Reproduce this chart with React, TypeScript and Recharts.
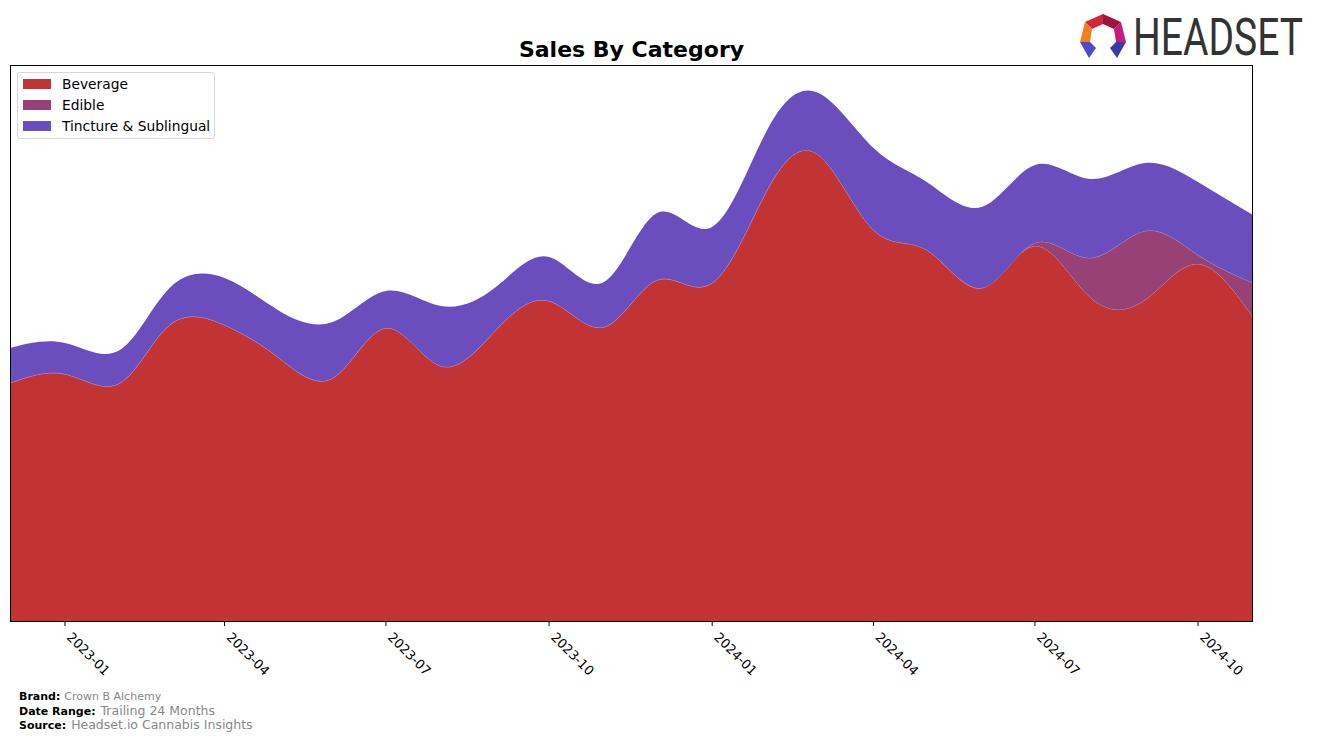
import { Area, AreaChart, XAxis, YAxis } from "recharts"

const months = [
  "2022-12", "2023-01", "2023-02", "2023-03", "2023-04", "2023-05",
  "2023-06", "2023-07", "2023-08", "2023-09", "2023-10", "2023-11",
  "2023-12", "2024-01", "2024-02", "2024-03", "2024-04", "2024-05",
  "2024-06", "2024-07", "2024-08", "2024-09", "2024-10", "2024-11",
]
const beverage = [239, 248, 239, 297, 297, 265, 244, 294, 256, 292, 321, 295, 342, 339, 432, 467, 392, 372, 334, 376, 325, 322, 358, 305]
const edible = [0, 0, 0, 0, 0, 0, 0, 0, 0, 0, 0, 0, 0, 0, 0, 0, 0, 0, 0, 3, 39, 69, 9, 34]
const tincture = [35, 31, 33, 37, 47, 47, 56, 37, 60, 43, 44, 45, 67, 56, 60, 62, 82, 68, 81, 78, 79, 68, 73, 68]
const tickLabels = ["2023-01", "2023-04", "2023-07", "2023-10", "2024-01", "2024-04", "2024-07", "2024-10"]

const toTime = (m: string) => {
  const [y, mo] = m.split("-").map(Number)
  return Date.UTC(y, mo - 1, 1)
}

const data = months.map((m, i) => ({
  t: toTime(m),
  beverage: beverage[i],
  edible: edible[i],
  tincture: tincture[i],
}))

const colors = {
  beverage: "#c13433",
  edible: "#974177",
  tincture: "#6a4ebd",
}

const font = "'DejaVu Sans', sans-serif"

function DateTick({ x, y, payload }: any) {
  const label = new Date(payload.value).toISOString().slice(0, 7)
  const ox = x + 8
  const oy = y + 3
  return (
    <text
      x={ox}
      y={oy}
      dy="0.75em"
      transform={`rotate(45 ${ox} ${oy})`}
      textAnchor="start"
      fontSize={13}
      fontFamily={font}
      fill="#000"
    >
      {label}
    </text>
  )
}

export default function App() {
  const legendItems = [
    { name: "Beverage", color: colors.beverage },
    { name: "Edible", color: colors.edible },
    { name: "Tincture & Sublingual", color: colors.tincture },
  ]

  return (
    <div style={{ position: "relative", width: 1317, height: 741, margin: -8, background: "#fff" }}>
      <AreaChart
        width={1317}
        height={741}
        data={data}
        margin={{ top: 65, right: 64, bottom: 59, left: 10 }}
      >
        <XAxis
          dataKey="t"
          type="number"
          domain={[data[0].t, data[data.length - 1].t]}
          ticks={tickLabels.map(toTime)}
          tick={<DateTick />}
          tickLine={{ stroke: "#000" }}
          tickSize={4}
          axisLine={false}
          height={60}
          interval={0}
        />
        <YAxis hide domain={[0, 557]} allowDataOverflow />
        <Area
          type="natural"
          dataKey="beverage"
          stackId="1"
          fill={colors.beverage}
          fillOpacity={1}
          stroke="#b89ac4"
          strokeWidth={0.7}
          isAnimationActive={false}
        />
        <Area
          type="natural"
          dataKey="edible"
          stackId="1"
          fill={colors.edible}
          fillOpacity={1}
          stroke="#b89ac4"
          strokeWidth={0.7}
          isAnimationActive={false}
        />
        <Area
          type="natural"
          dataKey="tincture"
          stackId="1"
          fill={colors.tincture}
          fillOpacity={1}
          stroke="none"
          isAnimationActive={false}
        />
      </AreaChart>

      {/* plot frame */}
      <div
        style={{
          position: "absolute",
          left: 10,
          top: 65,
          width: 1243,
          height: 557,
          border: "1px solid #000",
          boxSizing: "border-box",
          pointerEvents: "none",
        }}
      />

      {/* legend */}
      <div
        style={{
          position: "absolute",
          left: 17,
          top: 72,
          width: 198,
          height: 67,
          border: "1px solid #d6d6d6",
          borderRadius: 3,
          background: "rgba(255,255,255,0.8)",
          boxSizing: "border-box",
          fontFamily: font,
          fontSize: 13.8,
        }}
      >
        {legendItems.map((item, i) => (
          <div key={item.name} style={{ position: "absolute", left: 5, top: 1 + i * 21, height: 20, display: "flex", alignItems: "center", whiteSpace: "nowrap" }}>
            <span style={{ display: "inline-block", width: 28, height: 10, background: item.color, marginRight: 11 }} />
            <span>{item.name}</span>
          </div>
        ))}
      </div>

      <svg width={1317} height={741} style={{ position: "absolute", left: 0, top: 0, pointerEvents: "none" }}>
        <text x={631.5} y={57} textAnchor="middle" fontFamily={font} fontWeight="bold" fontSize={22} fill="#000">
          Sales By Category
        </text>

        {/* logo */}
        <polygon points="1085,22 1103,14 1103,24 1092,29" fill="#d4253a" />
        <polygon points="1103,14 1121,22 1114,29 1103,24" fill="#a3123c" />
        <polygon points="1085,22 1092,29 1090,42 1080,42" fill="#f07f22" />
        <polygon points="1121,22 1126,42 1116,42 1114,29" fill="#c21d7e" />
        <polygon points="1080,42 1090,42 1096,48 1089,58" fill="#4c4bc8" />
        <polygon points="1116,42 1126,42 1117,58 1110,48" fill="#3b3aa8" />
        <g transform="translate(1133 55) scale(1 1.37)">
          <text
            x={0}
            y={0}
            fontFamily="Roboto, sans-serif"
            fontSize={38}
            fill="#333"
            textLength={170}
            lengthAdjust="spacingAndGlyphs"
          >
            HEADSET
          </text>
        </g>

        {/* footer */}
        <text x={19} y={700} fontFamily={font} fontSize={11}>
          <tspan fontWeight="bold" fill="#000">Brand:</tspan>
          <tspan dx={4} fill="#888">Crown B Alchemy</tspan>
        </text>
        <text x={19} y={715} fontFamily={font} fontSize={11}>
          <tspan fontWeight="bold" fill="#000">Date Range:</tspan>
          <tspan dx={5} fontSize={12.5} fill="#888">Trailing 24 Months</tspan>
        </text>
        <text x={19} y={729} fontFamily={font} fontSize={11}>
          <tspan fontWeight="bold" fill="#000">Source:</tspan>
          <tspan dx={5} fontSize={12.5} fill="#888">Headset.io Cannabis Insights</tspan>
        </text>
      </svg>
    </div>
  )
}
